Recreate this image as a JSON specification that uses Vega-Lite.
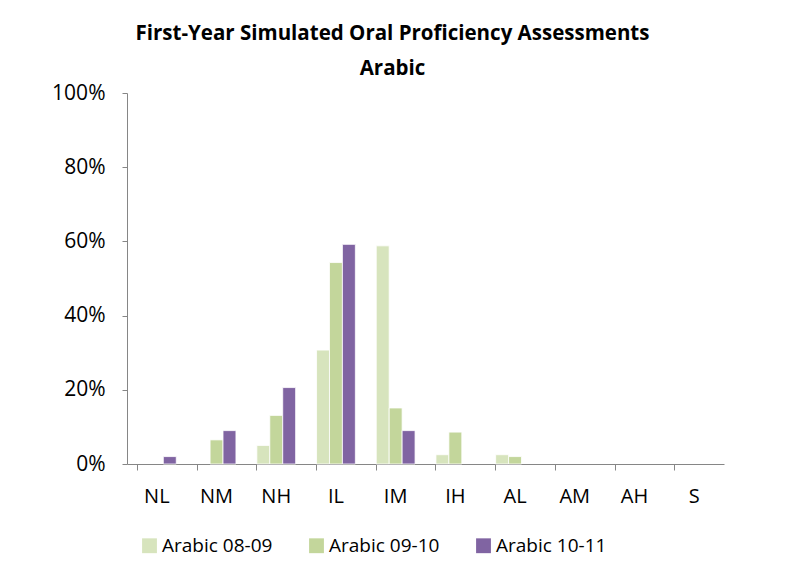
{
  "$schema": "https://vega.github.io/schema/vega-lite/v6.json",
  "width": 597,
  "height": 371,
  "autosize": {"type": "none"},
  "padding": {"left": 127, "top": 93, "right": 79, "bottom": 112},
  "background": "white",
  "title": {
    "text": ["First-Year Simulated Oral Proficiency Assessments", "Arabic"],
    "font": "Open Sans",
    "fontSize": 20.5,
    "fontWeight": "bold",
    "lineHeight": 35,
    "color": "black",
    "anchor": "middle",
    "dx": -33,
    "offset": 3
  },
  "data": {
    "values": [
      {"level": "NL", "series": "Arabic 10-11", "value": 0.02},
      {"level": "NM", "series": "Arabic 09-10", "value": 0.065},
      {"level": "NM", "series": "Arabic 10-11", "value": 0.09},
      {"level": "NH", "series": "Arabic 08-09", "value": 0.05},
      {"level": "NH", "series": "Arabic 09-10", "value": 0.131},
      {"level": "NH", "series": "Arabic 10-11", "value": 0.206},
      {"level": "IL", "series": "Arabic 08-09", "value": 0.307},
      {"level": "IL", "series": "Arabic 09-10", "value": 0.543},
      {"level": "IL", "series": "Arabic 10-11", "value": 0.592},
      {"level": "IM", "series": "Arabic 08-09", "value": 0.588},
      {"level": "IM", "series": "Arabic 09-10", "value": 0.151},
      {"level": "IM", "series": "Arabic 10-11", "value": 0.09},
      {"level": "IH", "series": "Arabic 08-09", "value": 0.025},
      {"level": "IH", "series": "Arabic 09-10", "value": 0.086},
      {"level": "AL", "series": "Arabic 08-09", "value": 0.025},
      {"level": "AL", "series": "Arabic 09-10", "value": 0.02}
    ]
  },
  "mark": {"type": "bar", "stroke": "white", "strokeWidth": 0.8},
  "encoding": {
    "x": {
      "field": "level",
      "type": "nominal",
      "title": null,
      "scale": {
        "domain": ["NL", "NM", "NH", "IL", "IM", "IH", "AL", "AM", "AH", "S"],
        "paddingInner": 0.35,
        "paddingOuter": 0.175
      },
      "axis": {
        "labelAngle": 0,
        "bandPosition": 0,
        "domainColor": "#868686",
        "tickColor": "#868686",
        "tickSize": 6,
        "labelPadding": 16,
        "labelFont": "Open Sans",
        "labelFontSize": 20,
        "labelColor": "black",
        "labelOffset": 0
      }
    },
    "xOffset": {
      "field": "series",
      "type": "nominal",
      "sort": ["Arabic 08-09", "Arabic 09-10", "Arabic 10-11"],
      "scale": {"paddingInner": 0, "paddingOuter": 0}
    },
    "y": {
      "field": "value",
      "type": "quantitative",
      "title": null,
      "scale": {"domain": [0, 1], "nice": false},
      "axis": {
        "format": ".0%",
        "values": [0, 0.2, 0.4, 0.6, 0.8, 1],
        "grid": false,
        "domainColor": "#868686",
        "tickColor": "#868686",
        "tickSize": 5,
        "labelPadding": 17,
        "labelFont": "Open Sans",
        "labelFontSize": 21,
        "labelColor": "black"
      }
    },
    "color": {
      "field": "series",
      "type": "nominal",
      "title": null,
      "scale": {
        "domain": ["Arabic 08-09", "Arabic 09-10", "Arabic 10-11"],
        "range": ["#D7E4BD", "#C3D69B", "#8064A2"]
      },
      "legend": {
        "orient": "none",
        "direction": "horizontal",
        "legendX": 13,
        "legendY": 443,
        "symbolType": "square",
        "symbolSize": 220,
        "symbolStrokeWidth": 0,
        "labelFont": "Open Sans",
        "labelFontSize": 19,
        "labelColor": "black",
        "labelOffset": 3,
        "columnPadding": 34
      }
    }
  },
  "config": {"view": {"stroke": null}}
}
